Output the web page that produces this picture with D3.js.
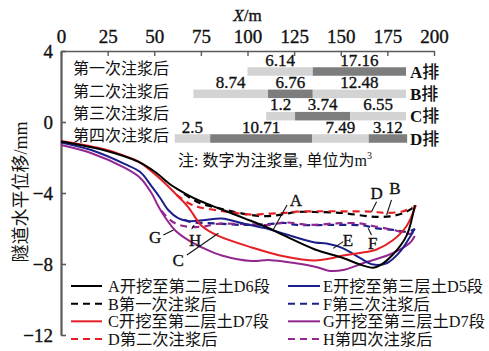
<!DOCTYPE html>
<html><head><meta charset="utf-8">
<script src="https://cdn.jsdelivr.net/npm/d3@7"></script>
<style>
body{margin:0;background:#fff;}
svg{display:block;}
text{font-family:'Liberation Serif','Noto Sans CJK SC',serif;fill:#111;}
.heavy{stroke:#111;stroke-width:0.35px;}
</style></head><body>
<svg id="chart" width="489" height="351"></svg>
<script>
// ---------- data ----------
const xTicks = [0,25,50,75,100,125,150,175,200];
const yTicks = [4,0,-4,-8,-12];
const xTitleMain = "X", xTitleUnit = "/m";
const yTitle = "隧道水平位移/mm";

const curveA = [[0,-1.10],[23.7,-1.61],[41.6,-2.25],[50.5,-2.82],[59.4,-3.58],[66.6,-4.03],[74.6,-4.45],[86.2,-4.93],[98.7,-5.44],[111.2,-5.97],[120.1,-6.42],[136.2,-7.18],[151.2,-7.66],[160.3,-8.03],[167.4,-8.21],[171,-8.08],[178.1,-7.45],[185.3,-6.4],[189.7,-4.68]];
const curveB = [[66,-4.05],[74,-4.55],[84.4,-4.85],[93.3,-5.07],[102.3,-5.24],[111.2,-5.30],[120.1,-5.18],[126.4,-5.07],[136.2,-5.07],[151.3,-5.13],[165.6,-5.32],[176.3,-5.32],[183.5,-5.13],[188.5,-4.85]];
const curveC = [[0,-1.07],[23.7,-1.55],[34.3,-1.92],[41.6,-2.23],[52.1,-3.10],[61,-4.0],[68.2,-4.79],[75.5,-5.86],[84.4,-6.42],[102.3,-7.07],[120.1,-7.58],[136.2,-7.80],[144.2,-7.69],[151.3,-7.52],[160.3,-7.38],[169.2,-7.18],[178.1,-6.65],[185.3,-5.86],[190.3,-4.68]];
const curveD = [[62,-4.1],[68,-4.55],[74,-4.8],[84.4,-4.98],[93.3,-5.12],[102.3,-5.22],[111.2,-5.16],[120.1,-5.12],[126.4,-5.05],[136.2,-5.03],[151.3,-5.03],[165.6,-5.05],[174.6,-5.12],[183.5,-5.03],[188.5,-4.8]];
const curveE = [[0,-1.15],[16.2,-1.58],[34.3,-2.37],[42.5,-2.82],[48.5,-3.61],[53.2,-4.28],[57.5,-4.96],[62.8,-5.41],[68.2,-5.58],[77.3,-5.52],[86.2,-5.44],[98.7,-5.75],[111.2,-6.03],[120.1,-6.31],[136.2,-6.79],[142.4,-6.85],[151.3,-7.12],[160.3,-7.66],[167.4,-8.03],[174.6,-7.96],[181.7,-7.32],[187.1,-6.48],[189.7,-6.0]];
const curveF = [[66,-5.5],[69.2,-5.63],[82.6,-5.71],[98.7,-5.8],[111.2,-5.75],[120.1,-5.69],[126.4,-5.8],[144.2,-5.8],[162,-5.83],[169.2,-5.99],[178.1,-6.08],[185.3,-6.18],[189.7,-6.05]];
const curveG = [[0,-1.30],[16.4,-1.76],[34.3,-2.59],[42.5,-3.15],[48.5,-4.0],[52.1,-4.73],[55.7,-5.35],[61,-6.08],[68.2,-6.65],[77.3,-7.15],[86.2,-7.52],[102.3,-7.83],[111.2,-7.77],[120.1,-7.87],[136.2,-8.15],[144.2,-8.39],[151.3,-8.34],[161.9,-7.96],[169.2,-7.72],[178.1,-7.38],[187,-6.82],[189.7,-6.42]];
const curveH = [[54,-5.0],[55.8,-5.24],[61.2,-5.71],[68.3,-5.9],[77.3,-5.88],[82.6,-5.75],[98.7,-5.75],[111.2,-5.8],[120.1,-5.66],[133.4,-5.8],[147.8,-5.71],[160.3,-5.71],[167.2,-5.86],[178.1,-6.08],[187,-6.3],[189.5,-6.2]];

const seriesKeys   = ["A","B","C","D","E","F","G","H"];
const seriesLabels = ["A开挖至第二层土D6段","B第一次注浆后","C开挖至第二层土D7段","D第二次注浆后",
                      "E开挖至第三层土D5段","F第三次注浆后","G开挖至第三层土D7段","H第四次注浆后"];
const seriesData   = [curveA,curveB,curveC,curveD,curveE,curveF,curveG,curveH];

// grouting rows
const rows       = ["A","B","C","D"];
const rowLabels  = ["A排","B排","C排","D排"];
const stageLabels= ["第一次注浆后","第二次注浆后","第三次注浆后","第四次注浆后"];
const rowAEdges = [100,135,185],          rowAVol = ["6.14","17.16"],            rowAShade = [0,1];
const rowBEdges = [71,111,135,185],       rowBVol = ["8.74","6.76","12.48"],     rowBShade = [0,1,0];
const rowCEdges = [110,125.5,155,185],    rowCVol = ["1.2","3.74","6.55"],       rowCShade = [0,1,0];
const rowDEdges = [61,80,134.7,165,185.6],rowDVol = ["2.5","10.71","7.49","3.12"],rowDShade = [0,1,0,1];
const noteText = "注: 数字为注浆量, 单位为m";

// annotation letters: [letter, textX, textY, lineX1, lineY1, lineX2, lineY2] in data units
const annotations = [
  ["A",126.0,-4.39,121.2,-4.68,113.7,-6.08],
  ["D",169.2,-4.02,169.2,-4.49,166.5,-5.05],
  ["B",179.0,-3.74,177.2,-4.39,174.6,-5.24],
  ["E",153.8,-6.65,151.3,-6.74,146.0,-7.12],
  ["F",167.2,-6.82,166.5,-6.37,164.7,-5.99],
  ["G",50.5,-6.48,54.9,-6.37,60.3,-6.08],
  ["H",71.9,-6.65,70.1,-6.03,71.4,-5.80],
  ["C",62.8,-7.77,67.5,-7.49,84.4,-6.27]
];

// ---------- styles ----------
const colors = {A:"#000",B:"#000",C:"#e61e25",D:"#e61e25",E:"#1d2088",F:"#1d2088",G:"#93278f",H:"#93278f"};
const dashed = {A:false,B:true,C:false,D:true,E:false,F:true,G:false,H:true};

const svg = d3.select("#chart");
const x = d3.scaleLinear().domain([0,200]).range([61,434]);
const y = d3.scaleLinear().domain([4,-12]).range([51,335]);
const axisColor = "#5a5a5a";

// top axis
const gx = svg.append("g").attr("transform","translate(0,51)")
  .call(d3.axisTop(x).tickValues(xTicks).tickSizeInner(-5).tickSizeOuter(0).tickPadding(8).tickFormat(d3.format("d")));
gx.select(".domain").attr("stroke",axisColor).attr("stroke-width",1.6);
gx.selectAll(".tick line").attr("stroke",axisColor).attr("stroke-width",1.4);
gx.selectAll(".tick text").attr("font-size",19).attr("font-family","'Liberation Serif',serif").attr("fill","#111").attr("class","heavy");

// left axis
const gy = svg.append("g").attr("transform","translate(61,0)")
  .call(d3.axisLeft(y).tickValues(yTicks).tickSizeInner(-5).tickSizeOuter(0).tickPadding(8));
gy.select(".domain").attr("stroke",axisColor).attr("stroke-width",2.2);
gy.selectAll(".tick line").attr("stroke",axisColor).attr("stroke-width",1.6);
gy.selectAll(".tick text").attr("font-size",19).attr("font-family","'Liberation Serif',serif").attr("fill","#111").attr("class","heavy");

// axis titles
const xt = svg.append("text").attr("x",x(100)).attr("y",21).attr("text-anchor","middle").attr("font-size",17).attr("class","heavy");
xt.append("tspan").attr("font-style","italic").text(xTitleMain);
xt.append("tspan").text(xTitleUnit);
svg.append("text").attr("transform","translate(21,192) rotate(-90)").attr("text-anchor","middle")
  .attr("dy","0.35em").attr("font-size",18).text(yTitle);

// grouting bars
const rowY = d3.scalePoint().domain(rows).range([71.5,138.5]);
const barH = 8.5;
const shadeColors = ["#d3d3d3","#7d7d7d"];
const rowSpecs = [[rowAEdges,rowAVol,rowAShade],[rowBEdges,rowBVol,rowBShade],[rowCEdges,rowCVol,rowCShade],[rowDEdges,rowDVol,rowDShade]];
const gBars = svg.append("g");
rows.forEach((r,i)=>{
  const [edges,vols,shades] = rowSpecs[i];
  const cy = rowY(r);
  for(let k=0;k<vols.length;k++){
    gBars.append("rect").attr("x",x(edges[k])).attr("y",cy-barH/2)
      .attr("width",x(edges[k+1])-x(edges[k])).attr("height",barH).attr("fill",shadeColors[shades[k]]);
    gBars.append("text").attr("x",(x(edges[k])+x(edges[k+1]))/2).attr("y",cy-barH/2-1.5)
      .attr("text-anchor","middle").attr("font-size",17).attr("class","heavy").text(vols[k]);
  }
  const rl = gBars.append("text").attr("x",x(200)-24).attr("y",cy).attr("dy","0.36em").attr("font-size",17);
  rl.append("tspan").attr("font-weight","bold").text(rowLabels[i].charAt(0));
  rl.append("tspan").attr("font-weight","500").text(rowLabels[i].slice(1));
  gBars.append("text").attr("x",73).attr("y",cy-3).attr("dy","0.36em").attr("font-size",16).text(stageLabels[i]);
});
const nt = svg.append("text").attr("x",178).attr("y",166).attr("font-size",16);
nt.append("tspan").text(noteText);
nt.append("tspan").attr("font-size",10).attr("dy",-7).text("3");

// curves
const line = d3.line().x(d=>x(d[0])).y(d=>y(d[1])).curve(d3.curveCatmullRom.alpha(0.5));
const gCurves = svg.append("g");
const order = ["B","D","F","H","G","E","C","A"];
order.forEach(k=>{
  const i = seriesKeys.indexOf(k);
  gCurves.append("path").attr("d",line(seriesData[i])).attr("fill","none")
    .attr("stroke",colors[k]).attr("stroke-width",dashed[k]?2.2:2)
    .attr("stroke-dasharray",dashed[k]?"7,5":null).attr("stroke-linejoin","round");
});

// annotations
const gAnn = svg.append("g");
annotations.forEach(a=>{
  gAnn.append("line").attr("x1",x(a[3])).attr("y1",y(a[4])).attr("x2",x(a[5])).attr("y2",y(a[6]))
    .attr("stroke","#111").attr("stroke-width",1.1);
  gAnn.append("text").attr("x",x(a[1])).attr("y",y(a[2])).attr("dy","0.35em").attr("text-anchor","middle")
    .attr("font-size",17).attr("class","heavy").text(a[0]);
});

// legend
const legY = d3.scalePoint().domain([0,1,2,3]).range([286,339]);
const legCols = [{lx1:71,lx2:102,tx:108},{lx1:288,lx2:320,tx:323}];
seriesKeys.forEach((k,i)=>{
  const col = legCols[Math.floor(i/4)], r = i%4, cy = legY(r);
  svg.append("line").attr("x1",col.lx1).attr("x2",col.lx2).attr("y1",cy).attr("y2",cy)
    .attr("stroke",colors[k]).attr("stroke-width",2).attr("stroke-dasharray",dashed[k]?"7,5":null);
  svg.append("text").attr("x",col.tx).attr("y",cy).attr("dy","0.36em").attr("font-size",16.3)
    .text(seriesLabels[i]);
});
</script>
</body></html>
